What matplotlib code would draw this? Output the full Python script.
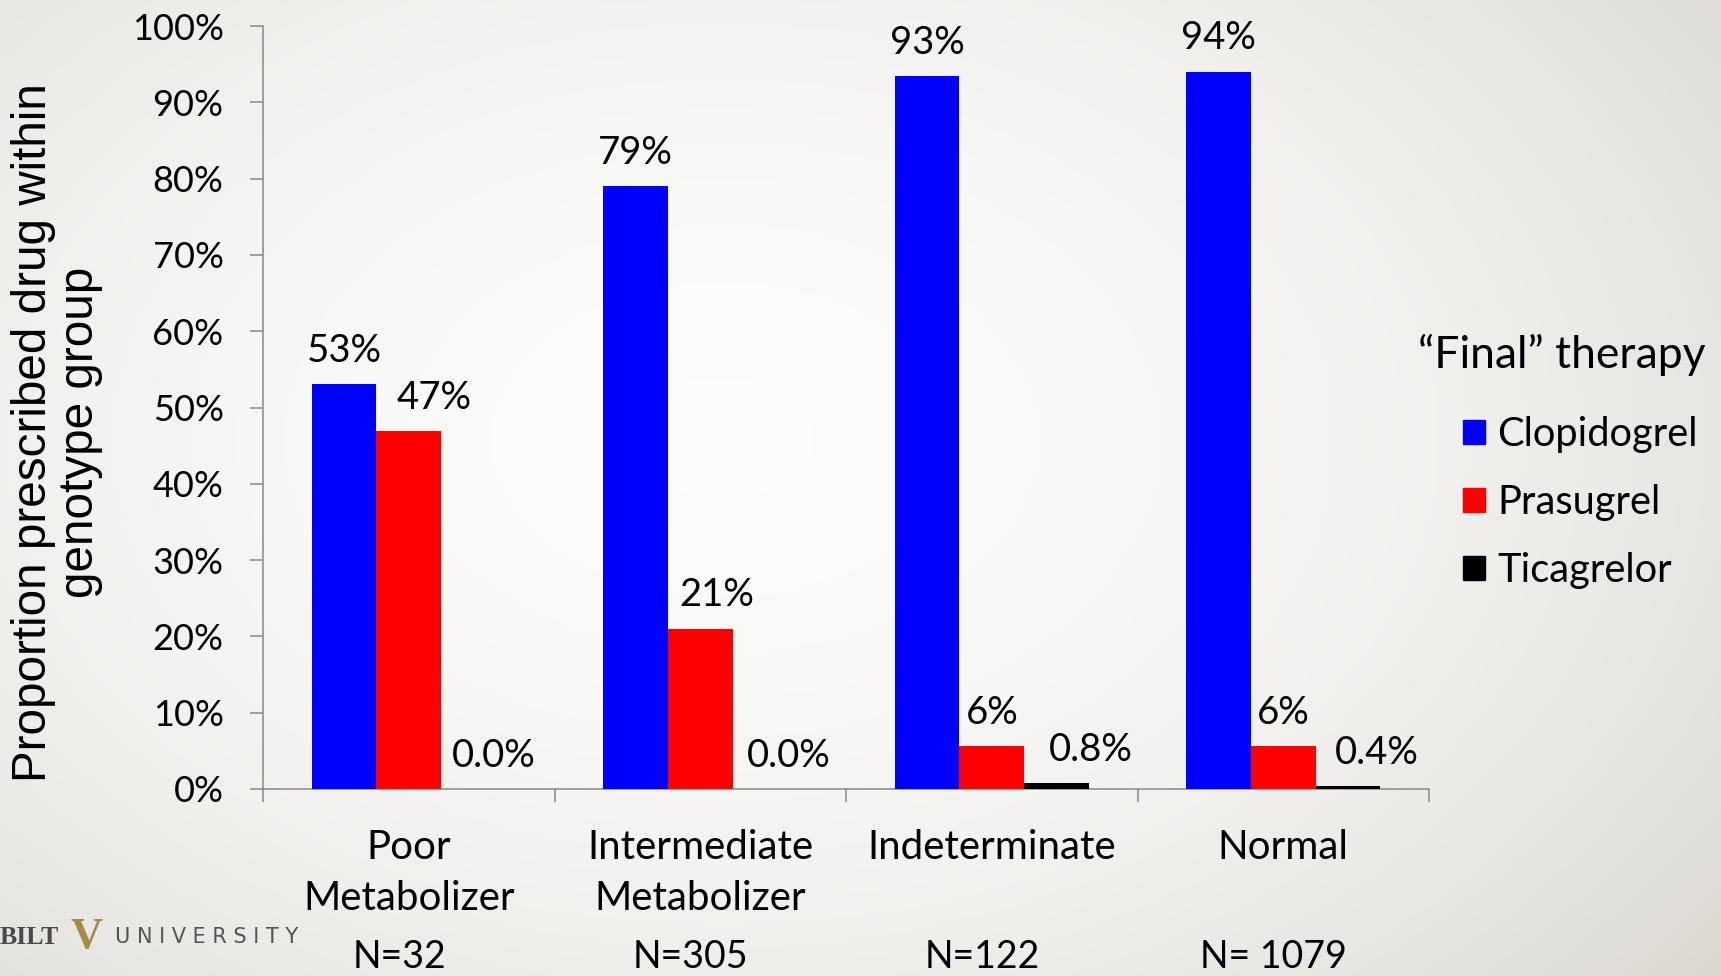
import numpy as np
import matplotlib
matplotlib.use("Agg")
import matplotlib.pyplot as plt
from matplotlib.patches import Patch
from matplotlib.ticker import FuncFormatter

# data
groups = ["Poor\nMetabolizer", "Intermediate\nMetabolizer", "Indeterminate", "Normal"]
group_n = ["N=32", "N=305", "N=122", "N= 1079"]
drugs = ["Clopidogrel", "Prasugrel", "Ticagrelor"]
clopidogrel = [53.1, 79.0, 93.4, 94.0]
prasugrel = [46.9, 21.0, 5.6, 5.6]
ticagrelor = [0.0, 0.0, 0.8, 0.4]
clop_lbl = ["53%", "79%", "93%", "94%"]
pras_lbl = ["47%", "21%", "6%", "6%"]
tica_lbl = ["0.0%", "0.0%", "0.8%", "0.4%"]
colors = ["#0000ff", "#ff0000", "#000000"]

# label nudges (group units), the slide moved some labels sideways
nudge = [[0, 0, 0, 0], [0.087, 0.055, 0, 0], [0.068, 0.083, 0.117, 0.10]]

W, H = 1721, 976
fig = plt.figure(figsize=(W / 100, H / 100), dpi=100)

# slide background, radial gradient
bg = fig.add_axes([0, 0, 1, 1], zorder=-5)
yy, xx = np.mgrid[0:1:200j, 0:1:350j]
r = np.sqrt(((xx - 0.42) / 0.75) ** 2 + ((yy - 0.55) / 0.9) ** 2)
t = np.clip(r, 0, 1) ** 2
c0 = np.array([0.985, 0.985, 0.982])
c1 = np.array([0.855, 0.843, 0.815])
img = c0 * (1 - t[..., None]) + c1 * t[..., None]
bg.imshow(img, aspect="auto", extent=[0, 1, 0, 1], origin="lower")
bg.axis("off")

font = "Lato"
fs = 26

ax = fig.add_axes([263 / W, 1 - 789 / H, (1429 - 263) / W, (789 - 26) / H])
ax.set_facecolor("none")

x = np.arange(len(groups))
bw = 0.222
series = [clopidogrel, prasugrel, ticagrelor]
labels = [clop_lbl, pras_lbl, tica_lbl]
for k, (vals, lbls) in enumerate(zip(series, labels)):
    xs = x + (k - 1) * bw
    ax.bar(xs, vals, width=bw, color=colors[k], label=drugs[k], zorder=3)
    for xi, v, s, dx in zip(xs, vals, lbls, nudge[k]):
        ax.annotate(s, xy=(xi + dx, v), xytext=(0, 24), textcoords="offset points",
                    ha="center", va="center", fontsize=27.5, family=font)

ax.set_xlim(-0.5, len(groups) - 0.5)
ax.set_ylim(0, 100)
ax.set_yticks(np.arange(0, 101, 10))
ax.yaxis.set_major_formatter(FuncFormatter(lambda v, p: f"{v:.0f}%"))
ax.set_xticks(x)
ax.set_xticklabels([])
ax.set_xticks(np.arange(-0.5, len(groups), 1), minor=True)
ax.tick_params(axis="x", which="major", length=0)
ax.tick_params(axis="x", which="minor", length=9.5, width=1.1, color="#888888")
ax.tick_params(axis="y", length=9.4, width=1.1, color="#888888", pad=19,
               labelsize=fs)
for lab in ax.get_yticklabels():
    lab.set_family(font)
for s in ["top", "right"]:
    ax.spines[s].set_visible(False)
for s in ["left", "bottom"]:
    ax.spines[s].set_color("#888888")
    ax.spines[s].set_linewidth(1.1)

# category labels and counts under the axis
for xi, g, n in zip(x, groups, group_n):
    ax.annotate(g, xy=(xi, 0), xycoords=("data", "axes fraction"),
                xytext=(0, -29), textcoords="offset points", ha="center", va="top",
                fontsize=29, family=font, linespacing=1.45)
    ax.annotate(n, xy=(xi, 0), xycoords=("data", "axes fraction"),
                xytext=(-7, -121), textcoords="offset points", ha="center",
                va="center", fontsize=27, family=font)

fig.text(57 / W, 0.557, "Proportion prescribed drug within\ngenotype group",
         rotation=90, ha="center", va="center", multialignment="center",
         fontsize=34.3, family="Liberation Sans", linespacing=1.05)

# legend: title as its own text, entries indented under it
fig.text(1562 / W, 1 - 355 / H, "\u201cFinal\u201d therapy", ha="center", va="center",
         fontsize=32, family=font)
handles = [Patch(color=c) for c in colors]
leg = fig.legend(handles, drugs, loc="center left",
                 bbox_to_anchor=(1463 / W, 1 - 502.5 / H), frameon=False,
                 prop={"family": font, "size": 28.7}, borderpad=0, borderaxespad=0,
                 handlelength=0.55, handleheight=0.55, handletextpad=0.3,
                 labelspacing=0.77)

# logo fragment bottom left
fig.text(0, 1 - 937 / H, "BILT", fontsize=18.5, family="Liberation Serif",
         weight="bold", color="#4a4a4a", ha="left", va="center")
fig.text(87 / W, 1 - 937 / H, "V", fontsize=32, family="Liberation Serif",
         weight="bold", color="#a68a4a", ha="center", va="center")
fig.text(115 / W, 1 - 937 / H, "U N I V E R S I T Y", fontsize=15,
         family="DejaVu Sans", color="#555555", ha="left", va="center")

fig.savefig("out.png", dpi=100)
